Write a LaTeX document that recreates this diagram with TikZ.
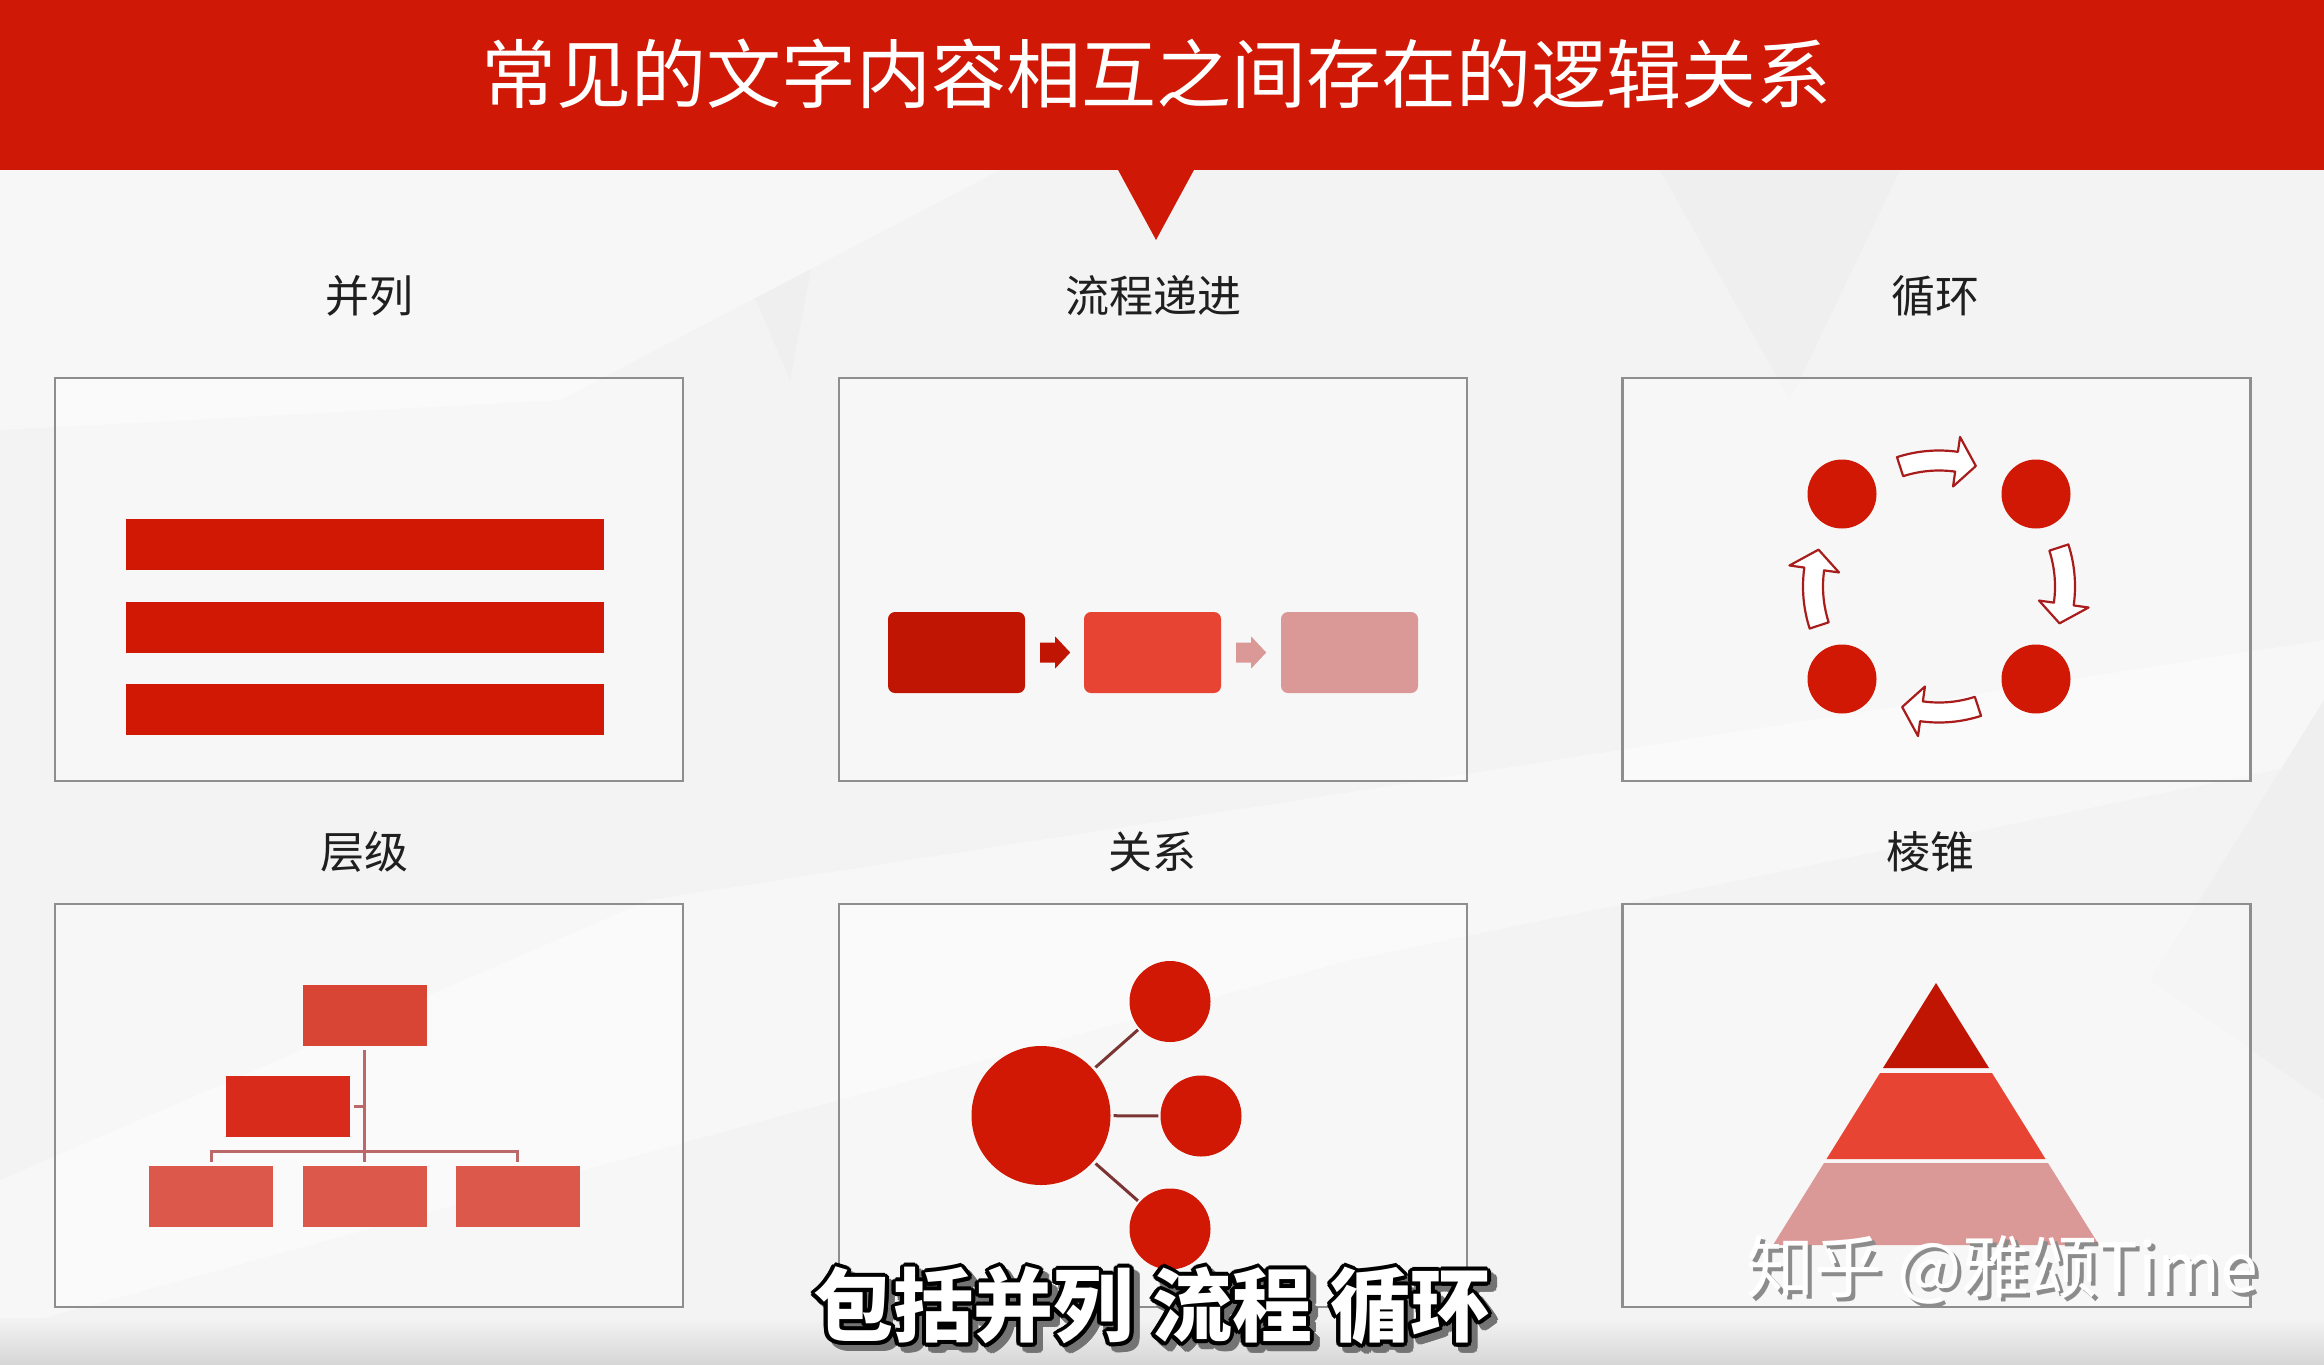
\documentclass[tikz,border=0pt]{standalone}
\usepackage{fontspec}
\usepackage{contour}
\newfontfamily\cjk{Noto Sans CJK SC}
\usetikzlibrary{calc}
\definecolor{hdr}{RGB}{207,25,6}
\definecolor{bg}{RGB}{243,243,243}
\definecolor{bgl}{RGB}{247,247,247}
\definecolor{bgd}{RGB}{239,239,240}
\definecolor{bgb}{RGB}{214,214,214}
\definecolor{barred}{RGB}{208,24,4}
\definecolor{dred}{RGB}{192,21,2}
\definecolor{mred}{RGB}{232,68,52}
\definecolor{pinkred}{RGB}{218,152,150}
\definecolor{htop}{RGB}{217,69,53}
\definecolor{hmid}{RGB}{216,43,28}
\definecolor{hbot}{RGB}{219,88,75}
\definecolor{hln}{RGB}{186,104,104}
\definecolor{rln}{RGB}{122,52,52}
\definecolor{framegray}{RGB}{142,142,142}
\definecolor{arrowline}{RGB}{168,28,28}
\contourlength{4pt}
\tikzset{
  panel/.style={draw=framegray, line width=2.2, fill=white, fill opacity=0.4,
    minimum width=628, minimum height=403, inner sep=0},
  seclabel/.style={font=\cjk\fontsize{44}{50}\selectfont, text=black!88, inner sep=0},
  titletext/.style={font=\cjk\fontsize{75}{80}\selectfont, text=white, inner sep=0},
  barbox/.style={fill=barred, minimum width=478, minimum height=51, inner sep=0},
  flowbox/.style={rounded corners=7, minimum width=137, minimum height=81, inner sep=0},
  dot/.style={circle, fill=barred, minimum size=69, inner sep=0},
  cycarrow/.style={fill=white, draw=arrowline, line width=2.2, line join=round},
  hbox/.style={minimum width=124, minimum height=61, inner sep=0},
  hline/.style={draw=hln, line width=3},
  relcircle/.style={circle, fill=barred, inner sep=0},
  rline/.style={draw=rln, line width=3, shorten <=3, shorten >=2},
  subtext/.style={font=\cjk\bfseries\fontsize{80}{90}\selectfont, inner sep=0},
  wmtext/.style={font=\cjk\fontsize{68}{72}\selectfont, inner sep=0}
}
\newcommand\cyclearrow[1]{%
  \begin{scope}[shift={(1939,-586.5)}, rotate=#1]
    \draw[cycarrow] (108:136) arc[start angle=108, end angle=82, radius=136]
      -- (82:151) -- (73:126) -- (82:101) -- (82:116)
      arc[start angle=82, end angle=108, radius=116] -- cycle;
  \end{scope}}
\begin{document}
\begin{tikzpicture}[x=1pt,y=1pt]
\useasboundingbox (0,0) rectangle (2324,-1365);
% background
\fill[bg] (0,0) rectangle (2324,-1365);
\fill[bgd] (140,-170) -- (330,-170) -- (230,-420) -- cycle;
\fill[bgd] (700,-170) -- (830,-170) -- (790,-380) -- cycle;
\fill[bgd] (1660,-170) -- (1900,-170) -- (1790,-400) -- cycle;
\fill[bgl] (0,-170) -- (1000,-170) -- (560,-400) -- (0,-430) -- cycle;
\fill[bgl] (0,-1180) -- (650,-900) -- (1300,-800) -- (2324,-640) -- (2324,-760) -- (1350,-960) -- (0,-1330) -- cycle;
\fill[bgd] (2324,-700) -- (2150,-980) -- (2324,-1100) -- cycle;
\shade[top color=bg, bottom color=bgb] (0,-1318) rectangle (2324,-1365);
% header
\fill[hdr] (0,0) rectangle (2324,-170);
\fill[hdr] (1117,-168) -- (1195,-168) -- (1156,-240) -- cycle;
\node[titletext] (title) at (1156,-74) {常见的文字内容相互之间存在的逻辑关系};
% section labels
\node[seclabel] (l1) at (369,-296) {并列};
\node[seclabel] (l2) at (1153,-296) {流程递进};
\node[seclabel] (l3) at (1935,-296) {循环};
\node[seclabel] (l4) at (364,-852) {层级};
\node[seclabel] (l5) at (1152,-852) {关系};
\node[seclabel] (l6) at (1930,-852) {棱锥};
% panels
\node[panel] (p1) at (369,-579.5) {};
\node[panel] (p2) at (1153,-579.5) {};
\node[panel] (p3) at (1936.5,-579.5) {};
\node[panel] (p4) at (369,-1105.5) {};
\node[panel] (p5) at (1153,-1105.5) {};
\node[panel] (p6) at (1936.5,-1105.5) {};
% parallel
\node[barbox] (b1) at (365,-544) {};
\node[barbox] (b2) at (365,-627) {};
\node[barbox] (b3) at (365,-709) {};
% flow
\node[flowbox, fill=dred] (f1) at (956.5,-652.5) {};
\node[flowbox, fill=mred] (f2) at (1152.5,-652.5) {};
\node[flowbox, fill=pinkred] (f3) at (1349.5,-652.5) {};
\fill[dred] ([xshift=15]f1.east) ++(0,10) -- ++(15,0) -- ++(0,6) -- ++(15,-16) -- ++(-15,-16) -- ++(0,6) -- ++(-15,0) -- cycle;
\fill[pinkred] ([xshift=15]f2.east) ++(0,10) -- ++(15,0) -- ++(0,6) -- ++(15,-16) -- ++(-15,-16) -- ++(0,6) -- ++(-15,0) -- cycle;
% cycle
\node[dot] (c1) at (1842,-494) {};
\node[dot] (c2) at (2036,-494) {};
\node[dot] (c3) at (2036,-679) {};
\node[dot] (c4) at (1842,-679) {};
\cyclearrow{0}
\cyclearrow{-90}
\cyclearrow{-180}
\cyclearrow{90}
% hierarchy
\node[hbox, fill=htop] (h0) at (364.5,-1015.5) {};
\node[hbox, fill=hmid] (h1) at (287.5,-1106) {};
\node[hbox, fill=hbot] (h2) at (211,-1196.5) {};
\node[hbox, fill=hbot] (h3) at (364.5,-1196.5) {};
\node[hbox, fill=hbot] (h4) at (517.5,-1196.5) {};
\coordinate (hb) at (364.5,-1151);
\draw[hline, shorten <=4, shorten >=4] (h0.south) -- (h3.north);
\draw[hline] ([xshift=4]h1.east) -- (h1.east -| h0.south);
\draw[hline] ([yshift=4]h2.north) |- (hb) -| ([yshift=4]h4.north);
% relationship
\node[relcircle, minimum size=139] (r0) at (1041,-1115.5) {};
\node[relcircle, minimum size=81] (r1) at (1170,-1001.5) {};
\node[relcircle, minimum size=81] (r2) at (1201,-1116) {};
\node[relcircle, minimum size=81] (r3) at (1170,-1229) {};
\draw[rline] (r0) -- (r1);
\draw[rline] (r0) -- (r2);
\draw[rline] (r0) -- (r3);
% pyramid
\fill[dred] (1936,-983) -- (1989,-1068) -- (1883,-1068) -- cycle;
\fill[mred] (1880,-1073) -- (1992,-1073) -- (2045.5,-1159) -- (1826.5,-1159) -- cycle;
\fill[pinkred] (1824,-1163) -- (2048,-1163) -- (2099,-1245) -- (1773,-1245) -- cycle;
% watermark
\node[wmtext, text=black!45] (wmsh) at (2006,-1274) {知乎 @雅颂Time};
\node[wmtext, text=white] (wm) at (2002,-1270) {知乎 @雅颂Time};
% subtitle
\node[subtext, text=black!55] (subsh) at (1158,-1314) {\contour{black!55}{包括并列 流程 循环}};
\node[subtext, text=white] (sub) at (1152,-1308) {\contour{black}{包括并列 流程 循环}};
\end{tikzpicture}
\end{document}
